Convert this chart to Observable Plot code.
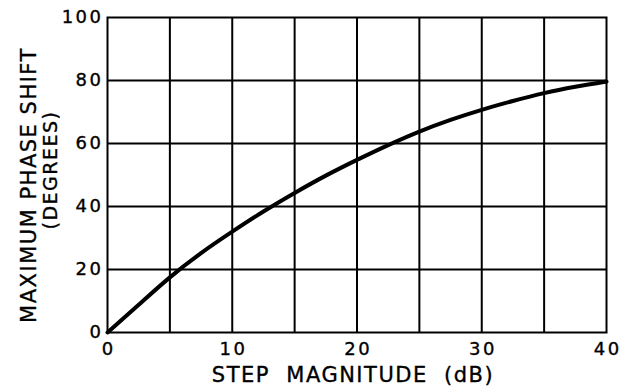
<!DOCTYPE html>
<html>
<head>
<meta charset="utf-8">
<script src="https://cdn.jsdelivr.net/npm/d3@7"></script>
<script src="https://cdn.jsdelivr.net/npm/@observablehq/plot@0.6"></script>
<style>
  html, body { margin: 0; padding: 0; background: #fff; }
  #chart svg text { stroke: #000; stroke-width: 0.35px; }
  #chart g[aria-label="x-axis tick label"] text,
  #chart g[aria-label="y-axis tick label"] text { letter-spacing: 2.5px; }
  #chart g[aria-label="text"] text { letter-spacing: 1.5px; }
</style>
</head>
<body>
<div id="chart"></div>
<script>
// Step magnitude (dB) and maximum phase shift (degrees)
const stepDb = [0, 2.5, 5, 7.5, 10, 12.5, 15, 17.5, 20, 22.5, 25, 27.5, 30, 32.5, 35, 37.5, 40];
const phaseDeg = [0, 8.8, 17.5, 25.2, 32, 38.4, 44.3, 49.8, 54.8, 59.5, 63.8, 67.5, 70.7, 73.5, 76, 78, 79.7];

const xTicks = [0, 10, 20, 30, 40];
const yTicks = [0, 20, 40, 60, 80, 100];
const xGrid = [5, 10, 15, 20, 25, 30, 35];
const yGrid = [20, 40, 60, 80];

const xLabel = "STEP\u00a0\u00a0MAGNITUDE\u00a0\u00a0(dB)";
const yLabel1 = "MAXIMUM PHASE SHIFT";
const yLabel2 = "(DEGREES)";

const curve = stepDb.map((x, i) => ({x, y: phaseDeg[i]}));

const chart = Plot.plot({
  width: 625,
  height: 387,
  marginLeft: 107,
  marginRight: 19,
  marginTop: 17,
  marginBottom: 55,
  style: {fontFamily: "DejaVu Sans", background: "#fff", color: "#000"},
  x: {domain: [0, 40]},
  y: {domain: [0, 100]},
  marks: [
    Plot.ruleX(xGrid, {stroke: "#000", strokeWidth: 2}),
    Plot.ruleY(yGrid, {stroke: "#000", strokeWidth: 2}),
    Plot.frame({stroke: "#000", strokeWidth: 2}),
    Plot.line(curve, {x: "x", y: "y", curve: "natural", stroke: "#000", strokeWidth: 4}),
    Plot.axisX({ticks: xTicks, tickSize: 0, tickPadding: 10, label: null, fontSize: 18, dx: 1.2}),
    Plot.axisY({ticks: yTicks, tickSize: 0, tickPadding: 4, label: null, fontSize: 18}),
    Plot.text([xLabel], {frameAnchor: "bottom", textAnchor: "middle", lineAnchor: "middle", dy: 43, dx: -4, fontSize: 21}),
    Plot.text([yLabel1], {frameAnchor: "left", textAnchor: "middle", lineAnchor: "middle", rotate: -90, dx: -78, dy: 10, fontSize: 21}),
    Plot.text([yLabel2], {frameAnchor: "left", textAnchor: "middle", lineAnchor: "middle", rotate: -90, dx: -57, dy: -5, fontSize: 19})
  ]
});
document.getElementById("chart").appendChild(chart);
</script>
</body>
</html>
